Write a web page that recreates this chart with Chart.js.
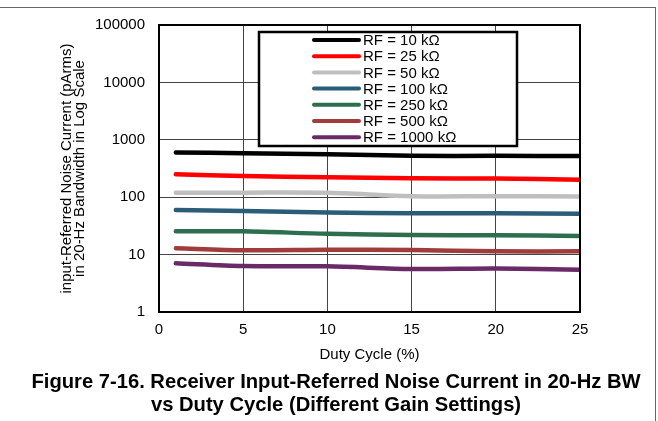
<!DOCTYPE html>
<html>
<head>
<meta charset="utf-8">
<script src="https://cdn.jsdelivr.net/npm/chart.js@4"></script>
<style>
  body { margin: 0; background: #fff; font-family: "Liberation Sans", Arial, sans-serif; }
  #wrap { position: relative; width: 658px; height: 421px; overflow: hidden; }
  #frame { position: absolute; left: -2px; top: 7px; width: 657px; height: 420px;
           border-top: 1px solid #666; border-right: 1px solid #666; }
  #chart { position: absolute; left: 0; top: 0; }
  .cap { position: absolute; left: 0; width: 672px; text-align: center; line-height: 23px;
         font-weight: bold; font-size: 20.2px; color: #000; white-space: nowrap; }
</style>
</head>
<body>
<div id="wrap">
  <div id="frame"></div>
  <canvas id="chart" width="658" height="421"></canvas>
  <div class="cap" style="top:370px">Figure 7-16. Receiver Input-Referred Noise Current in 20-Hz BW</div>
  <div class="cap" style="top:393px">vs Duty Cycle (Different Gain Settings)</div>
</div>
<script>
// ------------------- Data -------------------//
var duty = [1, 5, 10, 15, 20, 25];
var rf10 = [600, 585, 560, 525, 525, 520];
var rf25 = [250, 234, 222, 214, 211, 202];
var rf50 = [120, 120, 119, 104, 104, 103];
var rf100 = [60, 57.5, 54, 52.5, 52.5, 51.5];
var rf250 = [25.5, 25.5, 23, 22, 21.7, 21.1];
var rf500 = [12.9, 11.9, 12.1, 12, 11.4, 11.4];
var rf1000 = [7.05, 6.3, 6.25, 5.6, 5.7, 5.46];

var yTicks = [1, 10, 100, 1000, 10000, 100000];
var xTicks = [0, 5, 10, 15, 20, 25];

function pts(values) {
  return values.map(function(v, i) { return { x: duty[i], y: v }; });
}

function series(label, values, color) {
  return {
    label: label,
    data: pts(values),
    borderColor: color,
    backgroundColor: color,
    borderWidth: 4.5,
    borderCapStyle: 'round',
    pointRadius: 0,
    tension: 0.3
  };
}

// ------------------- Legend box + plot border -------------------//
var boxPlugin = {
  id: 'boxPlugin',
  afterDraw: function(chart) {
    var ctx = chart.ctx, a = chart.chartArea;
    ctx.save();
    ctx.strokeStyle = '#000';
    ctx.lineWidth = 2;
    ctx.strokeRect(a.left, a.top, a.right - a.left, a.bottom - a.top);

    // legend
    var bx = 259, by = 32, bw = 258, bh = 114;
    ctx.fillStyle = '#fff';
    ctx.fillRect(bx, by, bw, bh);
    ctx.lineWidth = 2.5;
    ctx.strokeRect(bx, by, bw, bh);
    ctx.font = '15px "Liberation Sans", Arial, sans-serif';
    ctx.textBaseline = 'middle';
    ctx.textAlign = 'left';
    chart.data.datasets.forEach(function(ds, i) {
      var y = 40 + i * 16.2;
      ctx.beginPath();
      ctx.strokeStyle = ds.borderColor;
      ctx.lineWidth = 4;
      ctx.lineCap = 'round';
      ctx.moveTo(314, y);
      ctx.lineTo(359, y);
      ctx.stroke();
      ctx.fillStyle = '#000';
      ctx.fillText(ds.label, 363, y + 1);
    });
    ctx.restore();
  }
};

// ------------------- Chart -------------------//
var ctx = document.getElementById('chart');
var myChart = new Chart(ctx, {
  type: 'line',
  data: {
    datasets: [
      series('RF = 10 k\u03A9', rf10, '#000000'),
      series('RF = 25 k\u03A9', rf25, '#ff0000'),
      series('RF = 50 k\u03A9', rf50, '#bfbfbf'),
      series('RF = 100 k\u03A9', rf100, '#2c5d78'),
      series('RF = 250 k\u03A9', rf250, '#2e6e4f'),
      series('RF = 500 k\u03A9', rf500, '#a03c3c'),
      series('RF = 1000 k\u03A9', rf1000, '#6a2a68')
    ]
  },
  options: {
    responsive: false,
    animation: false,
    layout: { padding: { left: 60, right: 78, top: 25, bottom: 57 } },
    plugins: { legend: { display: false }, tooltip: { enabled: false } },
    scales: {
      x: {
        type: 'linear',
        min: 0,
        max: 25,
        afterBuildTicks: function(s) { s.ticks = xTicks.map(function(v) { return { value: v }; }); },
        afterFit: function(s) { s.height = 52; },
        grid: { color: '#444', lineWidth: 1, drawTicks: false },
        border: { display: false },
        ticks: { color: '#000', padding: 9, font: { size: 15, family: '"Liberation Sans", Arial' } },
        title: {
          display: true,
          text: 'Duty Cycle (%)',
          color: '#000',
          padding: 0,
          font: { size: 15, family: '"Liberation Sans", Arial' }
        }
      },
      y: {
        type: 'logarithmic',
        min: 1,
        max: 100000,
        afterBuildTicks: function(s) { s.ticks = yTicks.map(function(v) { return { value: v }; }); },
        afterFit: function(s) { s.width = 99; },
        grid: { color: '#444', lineWidth: 1, drawTicks: false },
        border: { display: false },
        ticks: {
          color: '#000',
          padding: 14,
          font: { size: 15, family: '"Liberation Sans", Arial' },
          callback: function(v) { return String(v); }
        },
        title: {
          display: true,
          text: ['input-Referred Noise Current (pArms)', 'in 20-Hz Bandwidth in Log Scale'],
          color: '#000',
          padding: 0,
          font: { size: 15, lineHeight: '13.5px', family: '"Liberation Sans", Arial' }
        }
      }
    }
  },
  plugins: [boxPlugin]
});
</script>
</body>
</html>
